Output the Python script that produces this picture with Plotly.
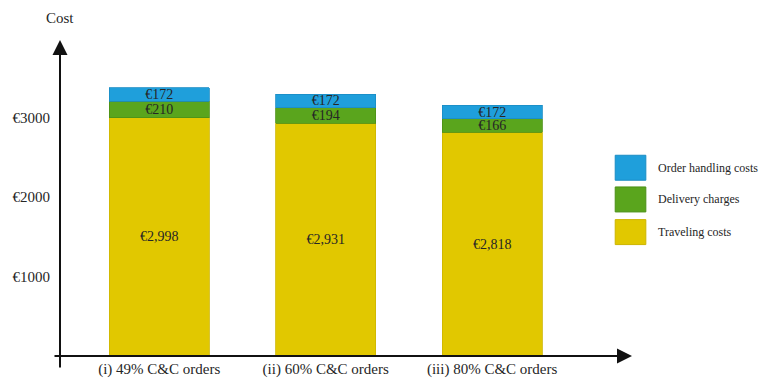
import plotly.graph_objects as go

categories = ["(i) 49% C&C orders", "(ii) 60% C&C orders", "(iii) 80% C&C orders"]
traveling = [2998, 2931, 2818]
delivery = [210, 194, 166]
handling = [172, 172, 172]
series_names = ["Traveling costs", "Delivery charges", "Order handling costs"]
colors = ["#e1c800", "#5aa51d", "#1f9fdb"]
edge_colors = ["#cdb500", "#4b9017", "#1a8cc4"]
tick_values = [1000, 2000, 3000]
tick_labels = ["€1000", "€2000", "€3000"]

FONT = "Liberation Serif"
TXT = "#262626"

# plot geometry (pixels)
L, R, T, B = 53, 632, 40, 369
PW, PH = R - L, B - T

fig = go.Figure()
for vals, name, col, ec in zip([traveling, delivery, handling], series_names, colors, edge_colors):
    fig.add_trace(go.Bar(
        x=categories, y=vals, name=name,
        marker=dict(color=col, line=dict(color=ec, width=0.8)),
        text=[f"€{v:,}" for v in vals],
        textposition="inside", insidetextanchor="middle",
        constraintext="none",
        textfont=dict(family=FONT, size=14, color=TXT),
        width=0.6, showlegend=False, hoverinfo="skip",
    ))

fig.update_layout(
    barmode="stack",
    width=761, height=390,
    margin=dict(l=L, r=761 - R, t=T, b=390 - B),
    paper_bgcolor="white", plot_bgcolor="white",
    font=dict(family=FONT, color=TXT),
    xaxis=dict(range=[-0.596, 2.840], showgrid=False, zeroline=False, showline=False,
               ticks="", tickfont=dict(family=FONT, size=15, color=TXT), ticklabelstandoff=2),
    yaxis=dict(range=[0, 3978], showgrid=False, zeroline=False, showline=False,
               tickvals=tick_values, ticktext=tick_labels, ticks="",
               tickfont=dict(family=FONT, size=15, color=TXT), ticklabelstandoff=9),
)

# axes with arrowheads
fig.add_annotation(xref="paper", yref="paper", x=0, y=1, ax=0, ay=PH,
                   text="", showarrow=True, arrowhead=2, arrowsize=1.5, arrowwidth=2, arrowcolor="#111")
fig.add_annotation(xref="paper", yref="paper", x=1, y=0, ax=-PW, ay=0,
                   text="", showarrow=True, arrowhead=2, arrowsize=1.5, arrowwidth=2, arrowcolor="#111")
fig.add_annotation(xref="paper", yref="paper", x=0, y=1 + 23 / PH, text="Cost", showarrow=False,
                   font=dict(family=FONT, size=15, color=TXT), xanchor="center", yanchor="middle")

# custom legend
legend_items = [("Order handling costs", colors[2], edge_colors[2], 160),
                ("Delivery charges", colors[1], edge_colors[1], 193),
                ("Traveling costs", colors[0], edge_colors[0], 227)]
for name, col, ec, top in legend_items:
    x0 = (615 - L) / PW
    x1 = (646 - L) / PW
    y1 = (B - top) / PH
    y0 = (B - top - 26) / PH
    fig.add_shape(type="rect", xref="paper", yref="paper", x0=x0, x1=x1, y0=y0, y1=y1,
                  fillcolor=col, line=dict(color=ec, width=1))
    fig.add_annotation(xref="paper", yref="paper", x=(656 - L) / PW, y=(y0 + y1) / 2, text=name,
                       showarrow=False, xanchor="left", yanchor="middle",
                       font=dict(family=FONT, size=12, color=TXT))

fig.write_html("out.html")
